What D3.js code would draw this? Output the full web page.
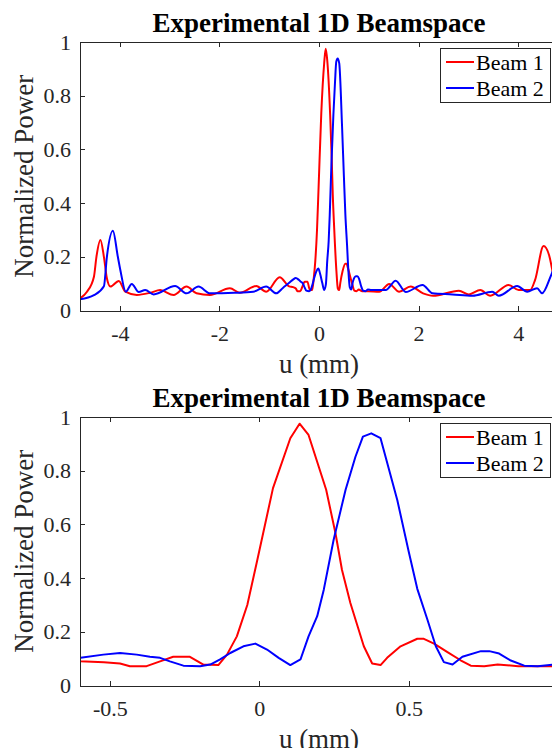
<!DOCTYPE html>
<html>
<head>
<meta charset="utf-8">
<script src="https://cdn.jsdelivr.net/npm/d3@7"></script>
<style>
  body { margin: 0; background: #fff; }
  svg { display: block; }
</style>
</head>
<body>
<div id="plot_area"></div>
<script>
var beam1U = [-4.8, -4.66, -4.52, -4.47, -4.39, -4.32, -4.26, -4.19, -4.02, -3.89, -3.66, -3.39, -3.19, -2.92, -2.66, -2.46, -2.19, -1.79, -1.59, -1.26, -1.06, -0.79,
  -0.6, -0.52, -0.466, -0.433, -0.377, -0.332, -0.288, -0.232, -0.187, -0.137, -0.108, -0.075, -0.04, -0.008, 0.046, 0.104, 0.135, 0.165, 0.224, 0.255, 0.277, 0.305,
  0.35, 0.378, 0.406, 0.428, 0.473, 0.529, 0.551, 0.585, 0.63, 0.674, 0.708, 0.753, 0.798, 0.867, 0.983,
  1.21, 1.41, 1.61, 1.84, 2.09, 2.29, 2.81, 3.01, 3.24, 3.44, 3.81, 4.01, 4.24, 4.34, 4.51, 4.62, 4.72, 4.8]
var beam1P = [0.045, 0.07, 0.126, 0.2, 0.263, 0.2, 0.12, 0.089, 0.11, 0.07, 0.058, 0.066, 0.076, 0.058, 0.089, 0.064, 0.058, 0.083, 0.066, 0.091, 0.07, 0.124,
  0.09, 0.087, 0.082, 0.072, 0.072, 0.09, 0.107, 0.107, 0.078, 0.076, 0.115, 0.183, 0.3, 0.46, 0.735, 0.921, 0.975, 0.933, 0.729, 0.568, 0.43, 0.307,
  0.146, 0.082, 0.076, 0.103, 0.146, 0.174, 0.174, 0.156, 0.124, 0.094, 0.074, 0.072, 0.078, 0.072, 0.072,
  0.07, 0.099, 0.07, 0.089, 0.064, 0.055, 0.074, 0.06, 0.076, 0.055, 0.095, 0.076, 0.076, 0.114, 0.24, 0.207, 0.12, 0.07]

var beam2U = [-4.8, -4.52, -4.32, -4.26, -4.14, -4.04, -3.99, -3.88, -3.76, -3.62, -3.49, -3.32, -2.89, -2.66, -2.42, -2.19, -1.7, -1.32, -1.06, -0.86, -0.72,
  -0.598, -0.522, -0.466, -0.41, -0.366, -0.332, -0.299, -0.254, -0.198, -0.164, -0.131, -0.097, -0.053, -0.013, 0.026, 0.065, 0.104, 0.138, 0.165, 0.194, 0.216,
  0.249, 0.289, 0.322, 0.347, 0.375, 0.406, 0.462, 0.5, 0.529, 0.563, 0.591, 0.618, 0.647, 0.68, 0.742, 0.77, 0.803, 0.842, 0.887, 0.932, 0.983,
  1.05, 1.34, 1.54, 1.74, 2.08, 2.28, 2.68, 3.08, 3.48, 3.61, 3.98, 4.18, 4.38, 4.48, 4.65, 4.8]
var beam2P = [0.042, 0.057, 0.09, 0.2, 0.297, 0.2, 0.151, 0.07, 0.099, 0.069, 0.076, 0.06, 0.091, 0.064, 0.089, 0.064, 0.066, 0.07, 0.089, 0.064, 0.085,
  0.103, 0.115, 0.121, 0.115, 0.107, 0.103, 0.09, 0.074, 0.072, 0.078, 0.097, 0.121, 0.146, 0.156, 0.134, 0.103, 0.076, 0.097, 0.183, 0.258, 0.357,
  0.543, 0.729, 0.852, 0.927, 0.939, 0.921, 0.691, 0.5, 0.36, 0.245, 0.146, 0.087, 0.078, 0.107, 0.128, 0.128, 0.119, 0.093, 0.074, 0.072, 0.078,
  0.076, 0.076, 0.111, 0.069, 0.095, 0.064, 0.06, 0.055, 0.07, 0.055, 0.091, 0.07, 0.083, 0.064, 0.126, 0.2]

var beamNames = ['Beam 1', 'Beam 2']
var beamColors = ['#ff0000', '#0000ff']
var wideTicks = [-4, -2, 0, 2, 4]
var zoomTicks = [-0.5, 0, 0.5]
var yTicks = [0, 0.2, 0.4, 0.6, 0.8, 1]
var titleText = 'Experimental 1D Beamspace'
var xLabel = 'u (mm)'
var yLabel = 'Normalized Power'

var width = 552, height = 748
var serif = '"Liberation Serif", "Times New Roman", Times, serif'
var axisColor = '#262626'

var Svg = d3.select('#plot_area')
  .append('svg')
  .attr('width', width)
  .attr('height', height)
  .style('background', '#fff')

var beams = [
  d3.zip(beam1U, beam1P),
  d3.zip(beam2U, beam2P)
]

function panel(id, top, domain, ticks, curve) {
  var left = 80, right = 558, bottom = top + 268.5

  var x = d3.scaleLinear().domain(domain).range([left, right])
  var y = d3.scaleLinear().domain([0, 1]).range([bottom, top])

  var g = Svg.append('g').attr('font-family', serif)

  g.append('clipPath').attr('id', 'clip' + id)
    .append('rect')
    .attr('x', left).attr('y', top)
    .attr('width', right - left).attr('height', bottom - top)

  // lines
  var line = d3.line()
    .x(function(d) { return x(d[0]) })
    .y(function(d) { return y(d[1]) })
    .curve(curve)

  g.append('g')
    .attr('clip-path', 'url(#clip' + id + ')')
    .selectAll('path')
    .data(beams)
    .enter()
    .append('path')
    .attr('d', line)
    .attr('fill', 'none')
    .attr('stroke', function(d, i) { return beamColors[i] })
    .attr('stroke-width', 2)
    .attr('stroke-linejoin', 'round')

  // axes, ticks pointing inward like matlab
  g.append('g')
    .attr('transform', 'translate(0,' + bottom + ')')
    .call(d3.axisBottom(x).tickValues(ticks).tickSizeInner(-5).tickSizeOuter(0)
      .tickPadding(15).tickFormat(function(d) { return String(d) }))

  g.append('g')
    .attr('transform', 'translate(0,' + top + ')')
    .call(d3.axisTop(x).tickValues(ticks).tickSizeInner(-5).tickSizeOuter(0).tickFormat(''))

  g.append('g')
    .attr('transform', 'translate(' + left + ',0)')
    .call(d3.axisLeft(y).tickValues(yTicks).tickSizeInner(-5).tickSizeOuter(0)
      .tickPadding(9).tickFormat(function(d) { return String(d) }))

  // d3 puts sans-serif on each axis group, swap it back
  g.selectAll('g').attr('font-family', serif).attr('font-size', null)

  g.selectAll('.domain, .tick line')
    .attr('stroke', axisColor)
    .attr('stroke-width', 1)
    .attr('shape-rendering', 'crispEdges')
  g.selectAll('.tick text')
    .attr('fill', axisColor)
    .style('font-family', serif)
    .style('font-size', '22px')

  // title and labels
  g.append('text')
    .attr('x', (left + right) / 2)
    .attr('y', top - 10)
    .attr('text-anchor', 'middle')
    .style('font-family', serif)
    .style('font-size', '27px')
    .style('font-weight', 'bold')
    .text(titleText)

  g.append('text')
    .attr('x', (left + right) / 2)
    .attr('y', bottom + 62)
    .attr('text-anchor', 'middle')
    .attr('fill', axisColor)
    .style('font-family', serif)
    .style('font-size', '27px')
    .text(xLabel)

  g.append('text')
    .attr('transform', 'translate(33,' + (top + bottom) / 2 + ')rotate(-90)')
    .attr('text-anchor', 'middle')
    .attr('fill', axisColor)
    .style('font-family', serif)
    .style('font-size', '27px')
    .text(yLabel)

  // legend (northeast)
  var lg = g.append('g').attr('transform', 'translate(440,' + (top + 6) + ')')
  lg.append('rect')
    .attr('width', 110).attr('height', 54)
    .attr('fill', '#fff')
    .attr('stroke', axisColor)
    .attr('stroke-width', 1)
    .attr('shape-rendering', 'crispEdges')
  beamNames.forEach(function(name, i) {
    var ry = 14 + i * 26
    lg.append('line')
      .attr('x1', 6).attr('x2', 34)
      .attr('y1', ry).attr('y2', ry)
      .attr('stroke', beamColors[i])
      .attr('stroke-width', 2)
    lg.append('text')
      .attr('x', 36).attr('y', ry)
      .attr('dy', '0.35em')
      .style('font-family', serif)
      .style('font-size', '22px')
      .text(name)
  })
}

panel('a', 42, [-4.8, 4.8], wideTicks, d3.curveMonotoneX)
panel('b', 417, [-0.6, 1.0], zoomTicks, d3.curveLinear)
</script>
</body>
</html>
